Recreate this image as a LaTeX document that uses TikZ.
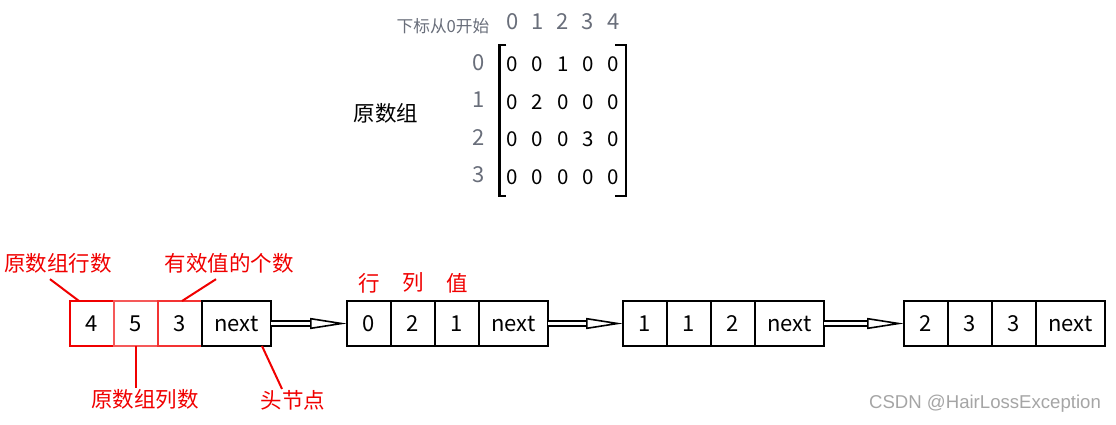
\documentclass[tikz,border=0pt]{standalone}
\usepackage{fontspec}
\setmainfont{Noto Sans CJK SC}
\setsansfont{Liberation Sans}
\usetikzlibrary{arrows.meta, positioning, matrix}
\definecolor{idxgray}{RGB}{105,110,122}
\definecolor{markred}{RGB}{240,0,0}
\definecolor{wmgray}{RGB}{165,165,165}

\begin{document}
\begin{tikzpicture}[x=1pt, y=-1pt,
    cell/.style={draw, line width=2pt, minimum width=44pt, minimum height=45pt,
                 inner sep=0pt, outer sep=0pt, font=\fontsize{22}{22}\selectfont},
    nextcell/.style={cell, minimum width=69pt},
    note/.style={text=markred, inner sep=1pt, font=\fontsize{21.5}{22}\selectfont},
    pointer/.style={draw=markred, line width=2pt},
    link/.style={double, double distance=2.2pt, line width=2pt,
                 -{Triangle[open, length=37pt, width=11pt, line width=1.6pt]}},
    idx/.style={text=idxgray, inner sep=1pt, font=\fontsize{22}{22}\selectfont}
  ]
  \useasboundingbox (0,0) rectangle (1116,424);

  % original array
  \matrix (arr) [matrix of nodes, inner sep=0pt, column sep=0pt, row sep=0pt,
                 nodes={minimum width=25.3pt, minimum height=37.5pt, inner sep=0pt,
                        font=\fontsize{20.5}{21}\selectfont}] at (562.7,120.5) {
    0 & 0 & 1 & 0 & 0 \\
    0 & 2 & 0 & 0 & 0 \\
    0 & 0 & 0 & 3 & 0 \\
    0 & 0 & 0 & 0 & 0 \\
  };
  \draw[line width=2.5pt] ([xshift=7pt]arr.north west) -| (arr.south west) -- ++(7pt,0);
  \draw[line width=2.5pt] ([xshift=-11pt]arr.north east) -| (arr.south east) -- ++(-11pt,0);

  \coordinate (colrow) at (0,22);
  \coordinate (rowcol) at (479,0);
  \foreach \v [count=\c] in {0,...,4}
    \node[idx] (col\v) at (arr-1-\c |- colrow) {\v};
  \foreach \v [count=\r] in {0,...,3}
    \node[idx, yshift=2pt] (row\v) at (arr-\r-1 -| rowcol) {\v};
  \node[idx, font=\fontsize{16.7}{17}\selectfont] (start) at (443,26) {下标从0开始};
  \node[font=\fontsize{21.5}{22}\selectfont] (orig) at (386,113) {原数组};

  % head node
  \node[cell, draw=markred] (h1) at (92,323.5) {4};
  \node[cell, draw=markred!65, right=0pt of h1] (h2) {5};
  \node[cell, draw=markred!80, right=0pt of h2] (h3) {3};
  \node[nextcell, right=0pt of h3] (hn) {next};

  % value nodes
  \node[cell, right=76pt of hn] (a1) {0};
  \node[cell, right=0pt of a1] (a2) {2};
  \node[cell, right=0pt of a2] (a3) {1};
  \node[nextcell, right=0pt of a3] (an) {next};

  \node[cell, right=75pt of an] (b1) {1};
  \node[cell, right=0pt of b1] (b2) {1};
  \node[cell, right=0pt of b2] (b3) {2};
  \node[nextcell, right=0pt of b3] (bn) {next};

  \node[cell, right=80pt of bn] (c1) {2};
  \node[cell, right=0pt of c1] (c2) {3};
  \node[cell, right=0pt of c2] (c3) {3};
  \node[nextcell, right=0pt of c3] (cn) {next};

  \draw[link] (hn.east) -- (a1.west);
  \draw[link] (an.east) -- (b1.west);
  \draw[link] (bn.east) -- (c1.west);

  % red notes
  \node[note] (lrow) at (58,263) {原数组行数};
  \node[note] (lcount) at (229,263) {有效值的个数};
  \node[note] (lcol) at (145,399) {原数组列数};
  \node[note] (lhead) at (293,400) {头节点};
  \node[note, above=7pt of a1] (trow) {行};
  \node[note, above=7pt of a2] (tcol) {列};
  \node[note, above=7pt of a3] (tval) {值};

  \draw[pointer] ([xshift=-8pt, yshift=-5pt]lrow.south) -- (h1.120);
  \draw[pointer] ([xshift=-13pt, yshift=-5pt]lcount.south) -- ([xshift=2pt]h3.north);
  \draw[pointer] (h2.south) -- (h2.south |- lcol.north);
  \draw[pointer] ([xshift=-9pt]hn.south east) -- ([xshift=-11pt]lhead.north);

  \node[text=wmgray, font=\sffamily\fontsize{18.6}{19}\selectfont] (mark) at (985,404) {CSDN @HairLossException};
\end{tikzpicture}
\end{document}
